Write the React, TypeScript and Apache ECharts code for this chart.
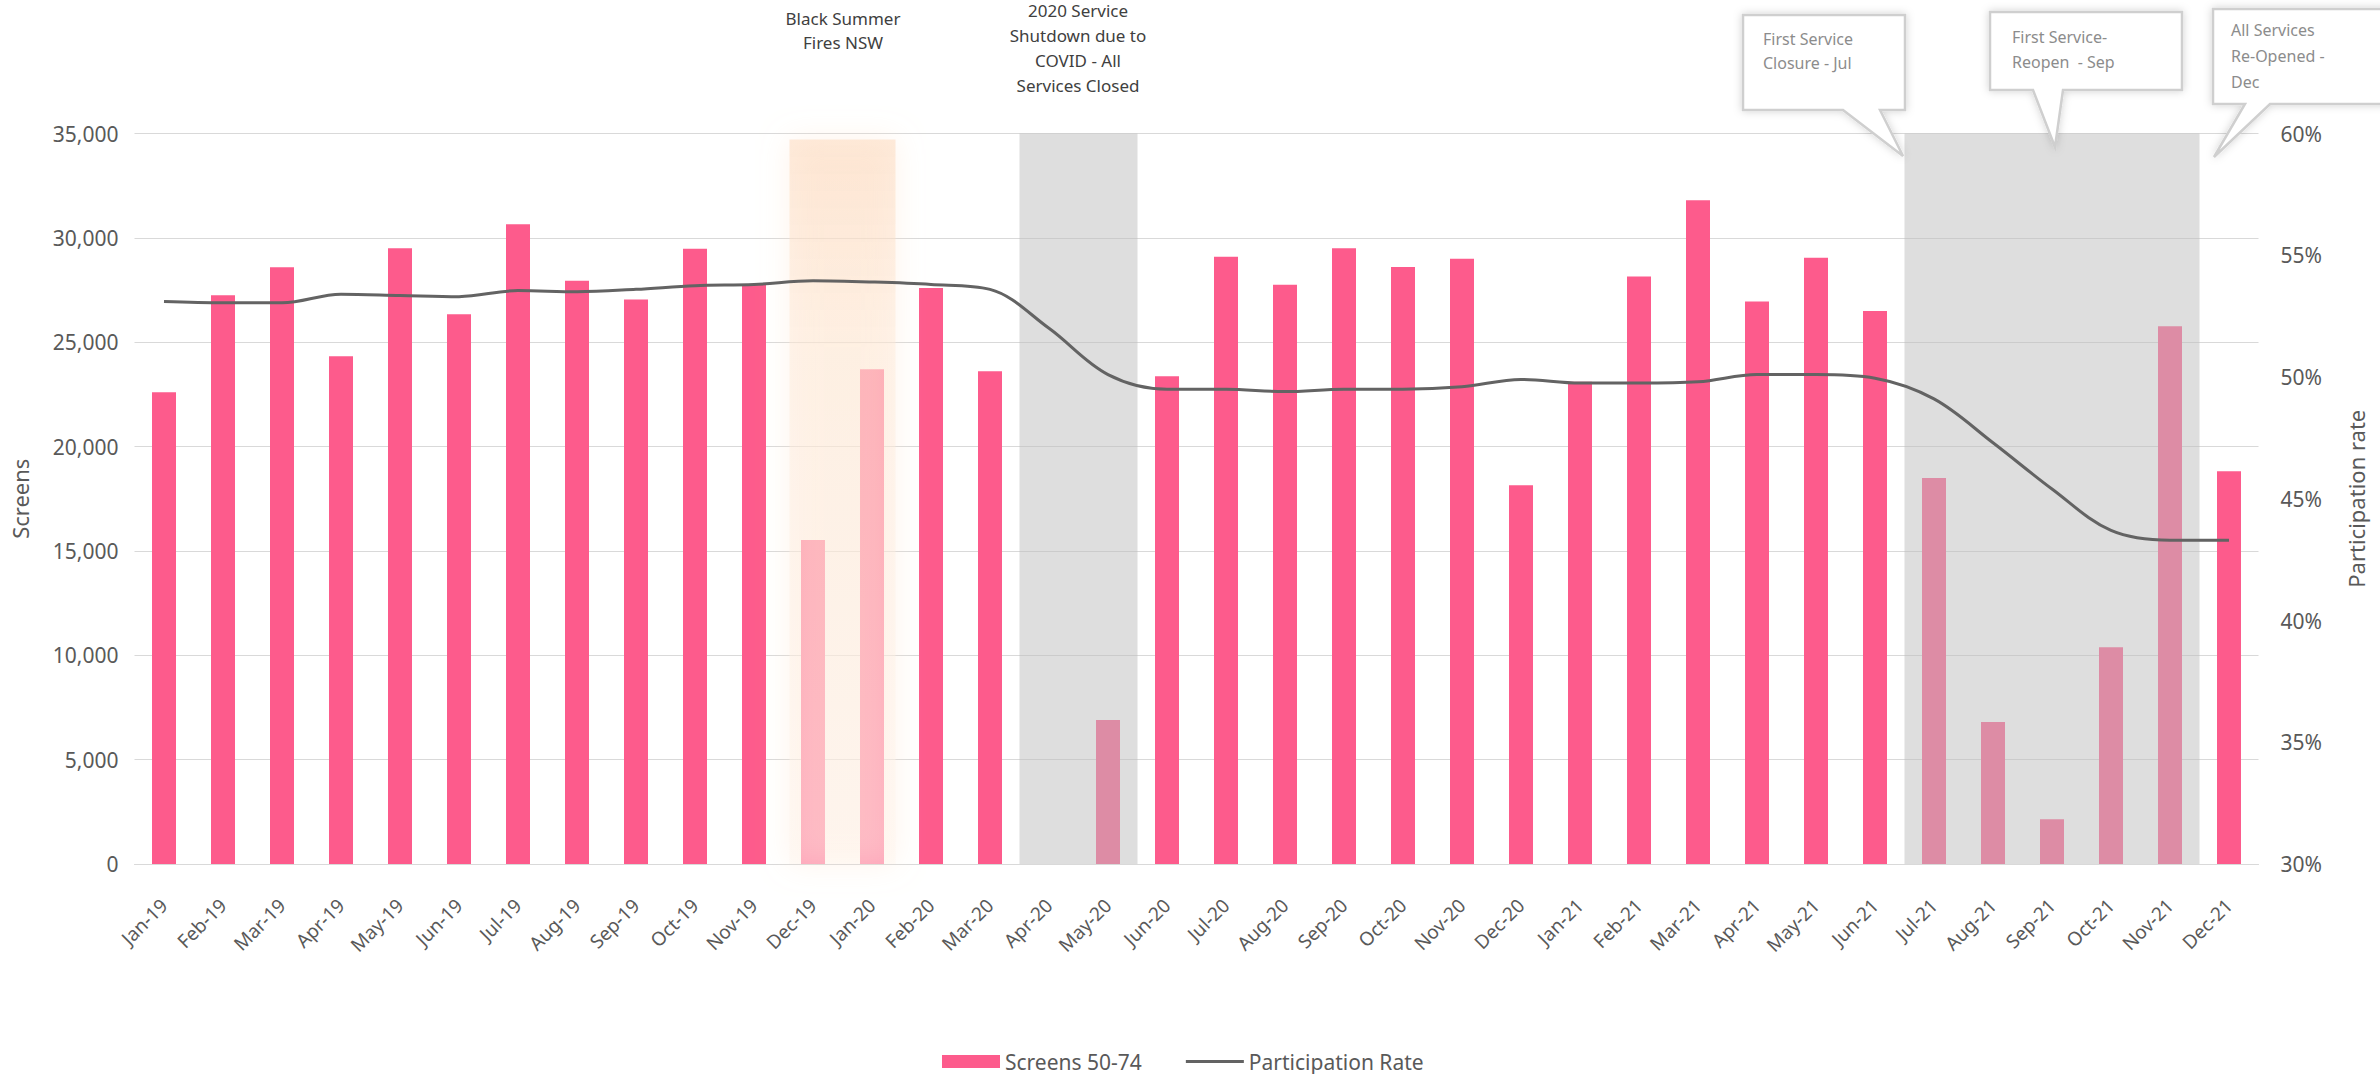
import React, { useEffect, useRef } from 'react';
import * as echarts from 'echarts';

const months = [
  'Jan-19', 'Feb-19', 'Mar-19', 'Apr-19', 'May-19', 'Jun-19', 'Jul-19', 'Aug-19', 'Sep-19', 'Oct-19', 'Nov-19', 'Dec-19',
  'Jan-20', 'Feb-20', 'Mar-20', 'Apr-20', 'May-20', 'Jun-20', 'Jul-20', 'Aug-20', 'Sep-20', 'Oct-20', 'Nov-20', 'Dec-20',
  'Jan-21', 'Feb-21', 'Mar-21', 'Apr-21', 'May-21', 'Jun-21', 'Jul-21', 'Aug-21', 'Sep-21', 'Oct-21', 'Nov-21', 'Dec-21',
];

const screens = [
  22600, 27250, 28590, 24330, 29500, 26340, 30650, 27950, 27050, 29480, 27780, 15520,
  23700, 27600, 23610, 0, 6900, 23370, 29100, 27750, 29500, 28600, 29000, 18150,
  23100, 28150, 31800, 26950, 29050, 26500, 18490, 6800, 2150, 10390, 25770, 18820,
];

const participation = [
  53.1, 53.05, 53.05, 53.4, 53.35, 53.3, 53.55, 53.5, 53.6, 53.75, 53.8, 53.95,
  53.9, 53.8, 53.6, 52.0, 50.1, 49.5, 49.5, 49.4, 49.5, 49.5, 49.6, 49.9,
  49.75, 49.75, 49.8, 50.1, 50.1, 49.95, 49.1, 47.3, 45.4, 43.7, 43.3, 43.3,
];

const fireRange = ['Dec-19', 'Jan-20'];
const closureRanges = [['Apr-20', 'May-20'], ['Jul-21', 'Nov-21']];

const barName = 'Screens 50-74';
const lineName = 'Participation Rate';
const leftAxisName = 'Screens';
const rightAxisName = 'Participation rate';

const fireNote = ['Black Summer', 'Fires NSW'];
const covidNote = ['2020 Service', 'Shutdown due to', 'COVID - All', 'Services Closed'];
const callout1 = ['First Service', 'Closure - Jul'];
const callout2 = ['First Service-', 'Reopen  - Sep'];
const callout3 = ['All Services', 'Re-Opened -', 'Dec'];

const FONT = '"Noto Sans", "Open Sans", sans-serif';

function shadeRender(fill: any, blur: number, shadowColor: string, extend: number) {
  return (params: any, api: any) => {
    const s = api.value(0);
    const e = api.value(1);
    const band = api.size([1, 0])[0];
    const p0 = api.coord([s, 0]);
    const p1 = api.coord([e, 0]);
    const cs = params.coordSys;
    return {
      type: 'rect',
      shape: {
        x: p0[0] - band / 2 - extend,
        y: cs.y - extend,
        width: p1[0] - p0[0] + band + 2 * extend,
        height: cs.height + extend,
      },
      style: { fill, shadowBlur: blur, shadowColor },
    };
  };
}

function textLines(lines: string[], x: number, y0: number, dy: number, size: number, color: string, align: string) {
  return lines.map((t, i) => ({
    type: 'text',
    x,
    y: y0 + i * dy,
    z: 100,
    style: {
      text: t,
      fill: color,
      fontSize: size,
      fontFamily: FONT,
      textAlign: align,
      textVerticalAlign: 'middle',
    },
  }));
}

function callout(points: number[][]) {
  return {
    type: 'polygon',
    z: 90,
    shape: { points },
    style: {
      fill: '#ffffff',
      stroke: '#cfcfcf',
      lineWidth: 2.5,
      shadowBlur: 8,
      shadowColor: 'rgba(0,0,0,0.18)',
    },
  };
}

export default function App() {
  const ref = useRef<HTMLDivElement>(null);

  useEffect(() => {
    document.body.style.margin = '0';
    if (!ref.current) return;
    const chart = echarts.init(ref.current, null, { renderer: 'svg' });

    const fireData = [[months.indexOf(fireRange[0]), months.indexOf(fireRange[1])]];
    const closureData = closureRanges.map((r) => [months.indexOf(r[0]), months.indexOf(r[1])]);

    const option: any = {
      animation: false,
      backgroundColor: '#ffffff',
      textStyle: { fontFamily: FONT },
      grid: {
        left: 134.5,
        right: 121.5,
        top: 133.5,
        bottom: 210,
        containLabel: false,
        outerBoundsMode: 'none',
      },
      legend: {
        data: [
          { name: barName, icon: 'rect' },
          { name: lineName, icon: 'path://M0,0 M58,13 M0,5 L58,5 L58,8 L0,8 Z' },
        ],
        left: 937,
        top: 1046,
        itemWidth: 58,
        itemHeight: 13,
        itemGap: 44,
        textStyle: { fontSize: 21, color: '#595959', fontFamily: FONT },
      },
      xAxis: {
        type: 'category',
        data: months,
        axisLine: { show: true, lineStyle: { color: '#D9D9D9', width: 1 } },
        axisTick: { show: false },
        axisLabel: {
          rotate: 45,
          margin: 38,
          fontSize: 19,
          color: '#595959',
          fontFamily: FONT,
          interval: 0,
        },
      },
      yAxis: [
        {
          type: 'value',
          min: 0,
          max: 35000,
          interval: 5000,
          name: leftAxisName,
          nameLocation: 'middle',
          nameRotate: 90,
          nameGap: 104,
          nameTextStyle: { fontSize: 22, color: '#595959', fontFamily: FONT },
          axisLine: { show: false },
          axisTick: { show: false },
          axisLabel: {
            margin: 16,
            fontSize: 21,
            color: '#595959',
            fontFamily: FONT,
            formatter: (v: number) => v.toLocaleString('en-US'),
          },
          splitLine: { show: true, lineStyle: { color: '#D9D9D9', width: 1 } },
        },
        {
          type: 'value',
          min: 30,
          max: 60,
          interval: 5,
          name: rightAxisName,
          nameLocation: 'middle',
          nameRotate: 90,
          nameGap: 86,
          nameTextStyle: { fontSize: 22, color: '#595959', fontFamily: FONT },
          axisLine: { show: false },
          axisTick: { show: false },
          axisLabel: {
            margin: 22,
            fontSize: 21,
            color: '#595959',
            fontFamily: FONT,
            formatter: (v: number) => v + '%',
          },
          splitLine: { show: false },
        },
      ],
      series: [
        {
          name: barName,
          type: 'bar',
          data: screens,
          barWidth: 24,
          z: 2,
          itemStyle: { color: '#FD5B8C' },
        },
        {
          name: 'fire',
          type: 'custom',
          data: fireData,
          z: 3,
          silent: true,
          renderItem: shadeRender(
            {
              type: 'linear',
              x: 0,
              y: 0,
              x2: 0,
              y2: 1,
              colorStops: [
                { offset: 0, color: 'rgba(252,215,185,0.5)' },
                { offset: 0.3, color: 'rgba(254,234,216,0.45)' },
                { offset: 1, color: 'rgba(255,246,238,0.45)' },
              ],
            },
            30,
            'rgba(253,226,202,0.8)',
            -6
          ),
        },
        {
          name: 'closure',
          type: 'custom',
          data: closureData,
          z: 3,
          silent: true,
          renderItem: shadeRender('rgba(190,190,190,0.5)', 0, 'rgba(0,0,0,0)', 0),
        },
        {
          name: lineName,
          type: 'line',
          yAxisIndex: 1,
          data: participation,
          smooth: 0.35,
          symbol: 'none',
          showSymbol: false,
          z: 5,
          lineStyle: { color: '#636363', width: 3 },
          itemStyle: { color: '#636363' },
        },
      ],
      graphic: [
        ...textLines(fireNote, 843, 18, 24, 17, '#404040', 'center'),
        ...textLines(covidNote, 1078, 10, 25, 17, '#404040', 'center'),
        callout([
          [1743, 15], [1905, 15], [1905, 110], [1880, 110], [1903, 156], [1843, 110], [1743, 110],
        ]),
        ...textLines(callout1, 1763, 39, 24, 16, '#8C8C8C', 'left'),
        callout([
          [1990, 12], [2182, 12], [2182, 90], [2063, 90], [2055, 147], [2033, 90], [1990, 90],
        ]),
        ...textLines(callout2, 2012, 37, 25, 16, '#8C8C8C', 'left'),
        callout([
          [2213, 9], [2395, 9], [2395, 104], [2270, 104], [2214, 157], [2245, 104], [2213, 104],
        ]),
        ...textLines(callout3, 2231, 30, 26, 16, '#8C8C8C', 'left'),
      ],
    };

    chart.setOption(option);
    return () => {
      chart.dispose();
    };
  }, []);

  return (
    <div
      ref={ref}
      style={{ position: 'fixed', left: 0, top: 0, width: 2380, height: 1074 }}
    />
  );
}
